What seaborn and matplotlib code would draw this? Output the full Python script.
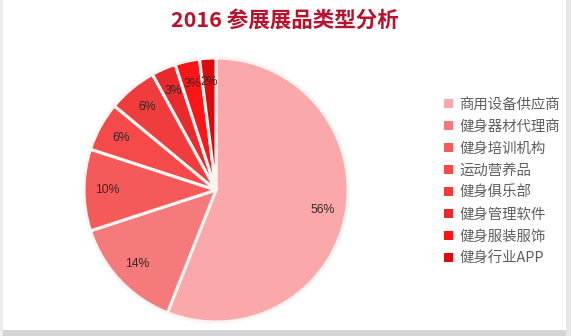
import matplotlib
matplotlib.use("Agg")
import matplotlib.pyplot as plt
from matplotlib.patches import Rectangle
import seaborn as sns

# Exhibitor categories and their shares (%)
categories = ["商用设备供应商", "健身器材代理商", "健身培训机构", "运动营养品",
              "健身俱乐部", "健身管理软件", "健身服装服饰", "健身行业APP"]
shares = [56, 14, 10, 6, 6, 3, 3, 2]
title_text = "2016 参展展品类型分析"

sns.set_theme(style="white")
plt.rcParams["font.family"] = ["Noto Sans CJK SC", "DejaVu Sans"]

# light pink to deep red, one tone per category
colors = ["#FBA8AA", "#F47A7C", "#F45A5A", "#F64A4A",
          "#F03C3C", "#E82A2E", "#FA1616", "#DC0A0E"]

fig = plt.figure(figsize=(5.71, 3.36), dpi=100)
fig.patch.set_facecolor("white")

# pie axes: centre ~(216, 190) px, radius ~132 px
ax = fig.add_axes([84 / 571, 14 / 336, 264 / 571, 264 / 336])
wedges, texts, autotexts = ax.pie(
    shares,
    colors=colors,
    startangle=90,
    counterclock=False,
    autopct=lambda p: f"{p:.0f}%",
    pctdistance=0.82,
    wedgeprops=dict(edgecolor="#FFF4F2", linewidth=2.2),
    textprops=dict(fontsize=8.8, color="#3A2626", family=["Liberation Sans", "DejaVu Sans"]),
)
ax.set_xlim(-1.0, 1.0)
ax.set_ylim(-1.0, 1.0)
ax.set_aspect("equal")
ax.axis("off")

fig.text(285 / 571, 1 - 20 / 336, title_text, ha="center", va="center",
         fontsize=15.5, fontweight="bold", color="#B8122C")

leg = fig.legend(
    wedges, categories,
    loc="upper left",
    bbox_to_anchor=(444 / 571, 1 - 98 / 336),
    frameon=False,
    fontsize=10.4,
    labelcolor="#5E5E5E",
    handlelength=0.6,
    handleheight=0.6,
    handletextpad=0.45,
    labelspacing=0.55,
    borderaxespad=0,
    borderpad=0,
)
for h in leg.legend_handles:
    h.set_edgecolor("none")

# faint grey frame around the image
fig.patches.append(Rectangle((0, 0), 1, 6 / 336, transform=fig.transFigure,
                             facecolor="#D4D4D4", edgecolor="none", zorder=0))
fig.patches.append(Rectangle((1 - 5 / 571, 0), 5 / 571, 1, transform=fig.transFigure,
                             facecolor="#E6E6E6", edgecolor="none", zorder=0))
fig.patches.append(Rectangle((0, 0), 3 / 571, 1, transform=fig.transFigure,
                             facecolor="#EDEDED", edgecolor="none", zorder=0))

fig.savefig("out.png", dpi=100, facecolor=fig.get_facecolor())
